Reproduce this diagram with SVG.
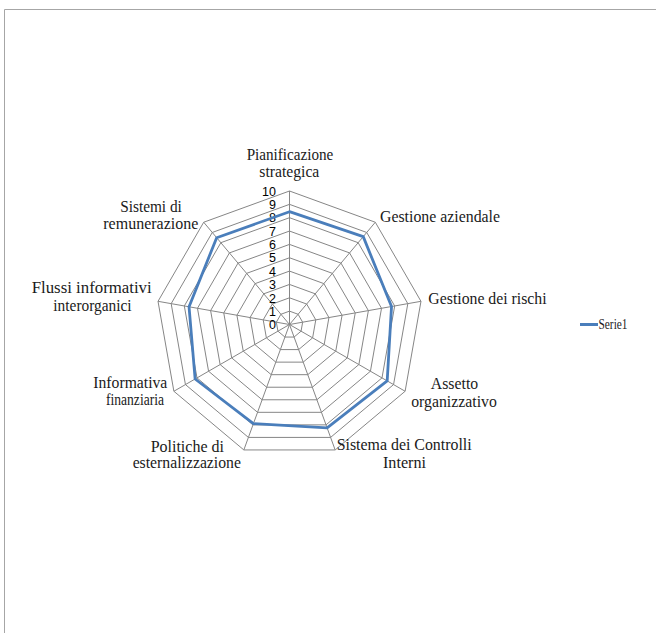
<svg xmlns="http://www.w3.org/2000/svg" width="656" height="633" viewBox="0 0 656 633">
  <style>
    .frame { stroke: #a6a6a6; stroke-width: 1; fill: none; }
    .grid { fill: none; stroke: #868686; stroke-width: 1; }
    .series { fill: none; stroke: #4a7ebb; stroke-width: 2.8; stroke-linejoin: round; }
    .tick { font-family: "Liberation Sans", Arial, sans-serif; font-size: 12.5px; fill: #000; text-anchor: end; }
    .cat { font-family: "Liberation Serif", "Times New Roman", serif; font-size: 16px; fill: #1a1a1a; text-anchor: middle; }
    .leg { font-family: "Liberation Serif", "Times New Roman", serif; font-size: 14px; fill: #1a1a1a; }
  </style>

  <rect x="0" y="0" width="656" height="633" fill="#ffffff"/>
  <!-- chart area frame (top and left edges) -->
  <path class="frame" d="M4.5 633 V9.5 H656"/>

  <!-- radar grid: 10 concentric nonagons and 9 spokes -->
  <g id="grid" transform="translate(289.5,324.5)">
    <polygon class="grid" points="0,-13.35 8.58,-10.23 13.15,-2.32 11.56,6.68 4.57,12.55 -4.57,12.55 -11.56,6.68 -13.15,-2.32 -8.58,-10.23"/>
    <polygon class="grid" points="0,-26.7 17.16,-20.45 26.29,-4.64 23.12,13.35 9.13,25.09 -9.13,25.09 -23.12,13.35 -26.29,-4.64 -17.16,-20.45"/>
    <polygon class="grid" points="0,-40.05 25.74,-30.68 39.44,-6.95 34.68,20.03 13.7,37.64 -13.7,37.64 -34.68,20.03 -39.44,-6.95 -25.74,-30.68"/>
    <polygon class="grid" points="0,-53.4 34.33,-40.9 52.59,-9.27 46.24,26.7 18.26,50.18 -18.26,50.18 -46.24,26.7 -52.59,-9.27 -34.33,-40.9"/>
    <polygon class="grid" points="0,-66.75 42.91,-51.13 65.74,-11.59 57.81,33.38 22.83,62.72 -22.83,62.72 -57.81,33.38 -65.74,-11.59 -42.91,-51.13"/>
    <polygon class="grid" points="0,-80.1 51.49,-61.36 78.88,-13.91 69.37,40.05 27.39,75.27 -27.39,75.27 -69.37,40.05 -78.88,-13.91 -51.49,-61.36"/>
    <polygon class="grid" points="0,-93.45 60.07,-71.58 92.03,-16.22 80.93,46.73 31.96,87.82 -31.96,87.82 -80.93,46.73 -92.03,-16.22 -60.07,-71.58"/>
    <polygon class="grid" points="0,-106.8 68.65,-81.81 105.18,-18.54 92.49,53.4 36.53,100.36 -36.53,100.36 -92.49,53.4 -105.18,-18.54 -68.65,-81.81"/>
    <polygon class="grid" points="0,-120.15 77.23,-92.03 118.32,-20.86 104.05,60.08 41.09,112.91 -41.09,112.91 -104.05,60.08 -118.32,-20.86 -77.23,-92.03"/>
    <polygon class="grid" points="0,-133.5 85.81,-102.26 131.47,-23.18 115.61,66.75 45.66,125.45 -45.66,125.45 -115.61,66.75 -131.47,-23.18 -85.81,-102.26"/>
    <path class="grid" d="M0 0 L0 -133.5 M0 0 L85.81 -102.26 M0 0 L131.47 -23.18 M0 0 L115.61 66.75 M0 0 L45.66 125.45 M0 0 L-45.66 125.45 M0 0 L-115.61 66.75 M0 0 L-131.47 -23.18 M0 0 L-85.81 -102.26"/>
  </g>

  <!-- value axis ticks -->
  <g id="axis-ticks">
    <text class="tick" x="276" y="329.2">0</text>
    <text class="tick" x="276" y="315.85">1</text>
    <text class="tick" x="276" y="302.5">2</text>
    <text class="tick" x="276" y="289.15">3</text>
    <text class="tick" x="276" y="275.8">4</text>
    <text class="tick" x="276" y="262.45">5</text>
    <text class="tick" x="276" y="249.1">6</text>
    <text class="tick" x="276" y="235.75">7</text>
    <text class="tick" x="276" y="222.4">8</text>
    <text class="tick" x="276" y="209.05">9</text>
    <text class="tick" x="276" y="195.7">10</text>
  </g>

  <!-- data series -->
  <g id="series-1" transform="translate(289.5,324.5)">
    <polygon class="series" points="0,-112.8 73.73,-87.86 102.03,-17.99 97.69,56.4 37.62,103.37 -36.08,99.14 -94.39,54.5 -100.45,-17.71 -72.83,-86.79"/>
  </g>

  <!-- category labels -->
  <g id="cat-pianificazione">
    <text class="cat" x="290" y="160" textLength="86.7" lengthAdjust="spacingAndGlyphs">Pianificazione</text>
    <text class="cat" x="289.3" y="177" textLength="60" lengthAdjust="spacingAndGlyphs">strategica</text>
  </g>
  <g id="cat-gestione-aziendale">
    <text class="cat" x="440" y="221.7" textLength="120" lengthAdjust="spacingAndGlyphs">Gestione aziendale</text>
  </g>
  <g id="cat-gestione-rischi">
    <text class="cat" x="487.5" y="304.3" textLength="118.3" lengthAdjust="spacingAndGlyphs">Gestione dei rischi</text>
  </g>
  <g id="cat-assetto">
    <text class="cat" x="454.5" y="389.3" textLength="47.3" lengthAdjust="spacingAndGlyphs">Assetto</text>
    <text class="cat" x="454" y="406.7" textLength="85.7" lengthAdjust="spacingAndGlyphs">organizzativo</text>
  </g>
  <g id="cat-controlli">
    <text class="cat" x="404.2" y="450" textLength="135" lengthAdjust="spacingAndGlyphs">Sistema dei Controlli</text>
    <text class="cat" x="404.5" y="468.3" textLength="43" lengthAdjust="spacingAndGlyphs">Interni</text>
  </g>
  <g id="cat-esternalizzazione">
    <text class="cat" x="187.3" y="451.7" textLength="73.3" lengthAdjust="spacingAndGlyphs">Politiche di</text>
    <text class="cat" x="186.8" y="468.3" textLength="108.3" lengthAdjust="spacingAndGlyphs">esternalizzazione</text>
  </g>
  <g id="cat-informativa">
    <text class="cat" x="130.3" y="388.3" textLength="74" lengthAdjust="spacingAndGlyphs">Informativa</text>
    <text class="cat" x="135" y="405" textLength="58" lengthAdjust="spacingAndGlyphs">finanziaria</text>
  </g>
  <g id="cat-flussi">
    <text class="cat" x="91.7" y="293.3" textLength="120" lengthAdjust="spacingAndGlyphs">Flussi informativi</text>
    <text class="cat" x="92.5" y="310.7" textLength="78.3" lengthAdjust="spacingAndGlyphs">interorganici</text>
  </g>
  <g id="cat-remunerazione">
    <text class="cat" x="151" y="211.7" textLength="61.7" lengthAdjust="spacingAndGlyphs">Sistemi di</text>
    <text class="cat" x="150.8" y="229" textLength="95" lengthAdjust="spacingAndGlyphs">remunerazione</text>
  </g>

  <!-- legend -->
  <g id="legend">
    <line x1="580" y1="324.5" x2="598" y2="324.5" stroke="#4a7ebb" stroke-width="3"/>
    <text class="leg" x="598.5" y="329" textLength="29" lengthAdjust="spacingAndGlyphs">Serie1</text>
  </g>
</svg>
